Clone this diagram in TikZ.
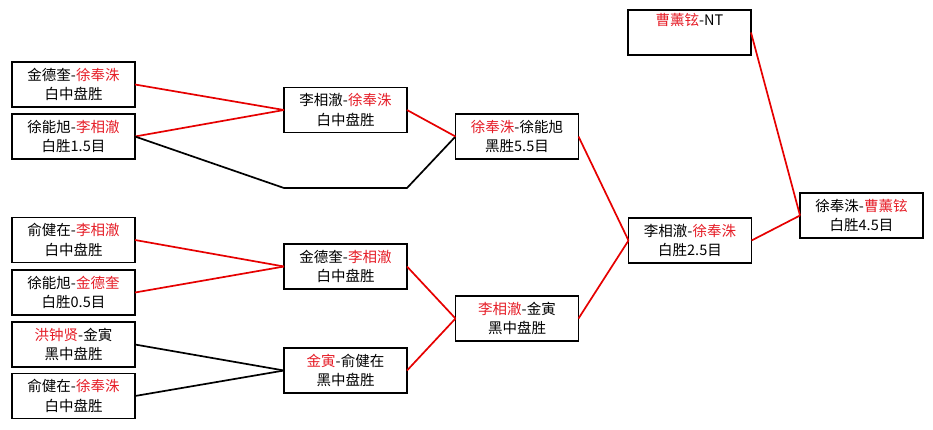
\documentclass[tikz,border=0pt]{standalone}
\usepackage{fontspec}
\setmainfont{Noto Sans CJK SC}
\begin{document}
\begin{tikzpicture}[x=1pt,y=-1pt,
  box/.style={draw=black,line width=1.8pt,fill=white,rectangle,minimum width=123pt,minimum height=45pt,
    inner sep=0pt,outer sep=0pt,align=center,font=\fontsize{14.5}{19.5}\selectfont},
  boldbox/.style={box,line width=2.8pt},
  win/.style={draw={rgb,255:red,230;green,0;blue,0},line width=1.7pt},
  lose/.style={draw=black,line width=1.7pt}]
\definecolor{rd}{RGB}{230,30,40}
\useasboundingbox (0,0) rectangle (933,429);
\fill[white] (0,0) rectangle (933,429);
% first round
\node[box] (L1) at (73.5,84.5) {金德奎-\textcolor{rd}{徐奉洙}\\白中盘胜};
\node[boldbox] (L2) at (73.5,136.5) {徐能旭-\textcolor{rd}{李相澈}\\白胜1.5目};
\node[box] (L3) at (73.5,240) {俞健在-\textcolor{rd}{李相澈}\\白中盘胜};
\node[box] (L4) at (73.5,292.5) {徐能旭-\textcolor{rd}{金德奎}\\白胜0.5目};
\node[box] (L5) at (73.5,344.5) {\textcolor{rd}{洪钟贤}-金寅\\黑中盘胜};
\node[box] (L6) at (73.5,396) {俞健在-\textcolor{rd}{徐奉洙}\\白中盘胜};
% second round
\node[box] (M1) at (345.5,110) {李相澈-\textcolor{rd}{徐奉洙}\\白中盘胜};
\node[box] (M2) at (345.5,266.5) {金德奎-\textcolor{rd}{李相澈}\\白中盘胜};
\node[box] (M3) at (345.5,370.5) {\textcolor{rd}{金寅}-俞健在\\黑中盘胜};
% third round
\node[box] (T1) at (517,136.5) {\textcolor{rd}{徐奉洙}-徐能旭\\黑胜5.5目};
\node[box] (T2) at (517,318.5) {\textcolor{rd}{李相澈}-金寅\\黑中盘胜};
% semifinal
\node[box] (F1) at (690,240.5) {李相澈-\textcolor{rd}{徐奉洙}\\白胜2.5目};
\node[box] (TP) at (689.5,32.5) {\textcolor{rd}{曹薰铉}-NT\\\strut};
% final
\node[box] (FN) at (861.5,215.5) {徐奉洙-\textcolor{rd}{曹薰铉}\\白胜4.5目};
% connectors
\coordinate (b1) at (284,188);
\coordinate (b2) at (407,188);
\draw[win] (L1.east) -- (M1.west);
\draw[win] (L2.east) -- (M1.west);
\draw[lose] (L2.east) -- (b1) -- (b2) -- (T1.west);
\draw[win] (M1.east) -- (T1.west);
\draw[win] (L3.east) -- (M2.west);
\draw[win] (L4.east) -- (M2.west);
\draw[lose] (L5.east) -- (M3.west);
\draw[lose] (L6.east) -- (M3.west);
\draw[win] (M2.east) -- (T2.west);
\draw[win] (M3.east) -- (T2.west);
\draw[win] (T1.east) -- (F1.west);
\draw[win] (T2.east) -- (F1.west);
\draw[win] (F1.east) -- (FN.west);
\draw[win] (TP.east) -- (FN.west);
\end{tikzpicture}
\end{document}
